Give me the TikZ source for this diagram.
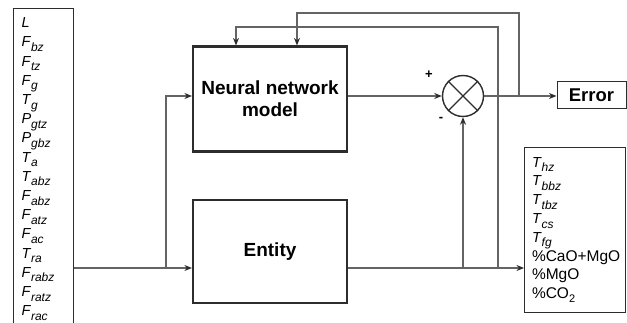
\documentclass[tikz,border=0pt]{standalone}
\usepackage{fontspec}
\setmainfont{Liberation Sans}
\usetikzlibrary{arrows.meta,positioning,calc}
\definecolor{linegray}{RGB}{100,100,100}
\definecolor{boxgray} {RGB}{ 45, 45, 45}
\newcommand{\sv}[2]{\textit{#1}\raisebox{-0.6ex}{\fontsize{12}{12}\selectfont\textit{#2}}}

\begin{document}
\begin{tikzpicture}[x=1pt,y=-1pt,
  every node/.style={inner sep=0pt},
  line/.style={draw=linegray,line width=1.4pt},
  arr/.style={line,-{Stealth[length=7.5pt,width=6pt,color=boxgray]}},
  blk/.style={draw=boxgray,line width=2.2pt,minimum width=154pt,minimum height=105pt,
              align=center,font=\fontsize{19}{22}\selectfont\bfseries},
  lst/.style={draw=boxgray,line width=1pt,align=left,anchor=north west},
]
\useasboundingbox (0,0) rectangle (627,323);

%% input and output lists
\node[lst,minimum width=60pt,minimum height=321pt,text width=44pt,inner xsep=8pt,
      font=\fontsize{14.5}{19.2}\selectfont] (inputs) at (13,8)
  {\textit{L}\\ \sv{F}{bz}\\ \sv{F}{tz}\\ \sv{F}{g}\\ \sv{T}{g}\\ \sv{P}{gtz}\\
   \sv{P}{gbz}\\ \sv{T}{a}\\ \sv{T}{abz}\\ \sv{F}{abz}\\ \sv{F}{atz}\\ \sv{F}{ac}\\
   \sv{T}{ra}\\ \sv{F}{rabz}\\ \sv{F}{ratz}\\ \sv{F}{rac}};
\node[lst,minimum width=101pt,minimum height=165pt,text width=86pt,inner xsep=7.5pt,
      font=\fontsize{14.5}{18.8}\selectfont] (outputs) at (524,147)
  {\sv{T}{hz}\\ \sv{T}{bbz}\\ \sv{T}{tbz}\\ \sv{T}{cs}\\ \sv{T}{fg}\\
   {\fontsize{15.5}{18.8}\selectfont\%CaO+MgO}\\
   {\fontsize{15.5}{18.8}\selectfont\%MgO}\\
   {\fontsize{15.5}{18.8}\selectfont\%CO\raisebox{-0.5ex}{\fontsize{11}{11}\selectfont 2}}};

%% model, plant and comparison
\node[blk] (nn) at (270,99) {Neural network\\model};
\node[blk,minimum height=103pt] (entity) at (270,251.5) {Entity};
\node[circle,draw=boxgray,line width=1.4pt,minimum size=41pt] (sum) at (463,96) {};
\draw[draw=boxgray,line width=1.2pt] (sum.45) -- (sum.225) (sum.135) -- (sum.315);
\node[font=\fontsize{13}{13}\selectfont\bfseries] (plus) at (429,75) {+};
\node[font=\fontsize{13}{13}\selectfont\bfseries] (minus) at (441,119) {-};
\node[draw=boxgray,line width=1pt,minimum width=69pt,minimum height=27pt,
      font=\fontsize{18.5}{20}\selectfont\bfseries] (error) at (591.5,95.5) {Error};

%% branch points
\coordinate (split)  at (166,268);
\coordinate (fbtap)  at (498,268);
\coordinate (fbtop)  at (498,27);
\coordinate (errtap) at (519,96);
\coordinate (errtop) at (519,13);

\draw[arr] (inputs.east |- split) -- (entity.west |- split);
\draw[arr] (split) |- (nn.west |- sum);
\draw[arr] (nn.east |- sum) -- (sum.west);
\draw[arr] (sum.east) -- (error.west |- sum);
\draw[arr] (entity.east |- split) -- (outputs.west |- split);
\draw[arr] (sum |- split) -- (sum.south);
\draw[arr] (fbtap) -- (fbtop) -| ([xshift=-34pt]nn.north);
\draw[arr] (errtap) -- (errtop) -| ([xshift=27pt]nn.north);

\end{tikzpicture}
\end{document}
